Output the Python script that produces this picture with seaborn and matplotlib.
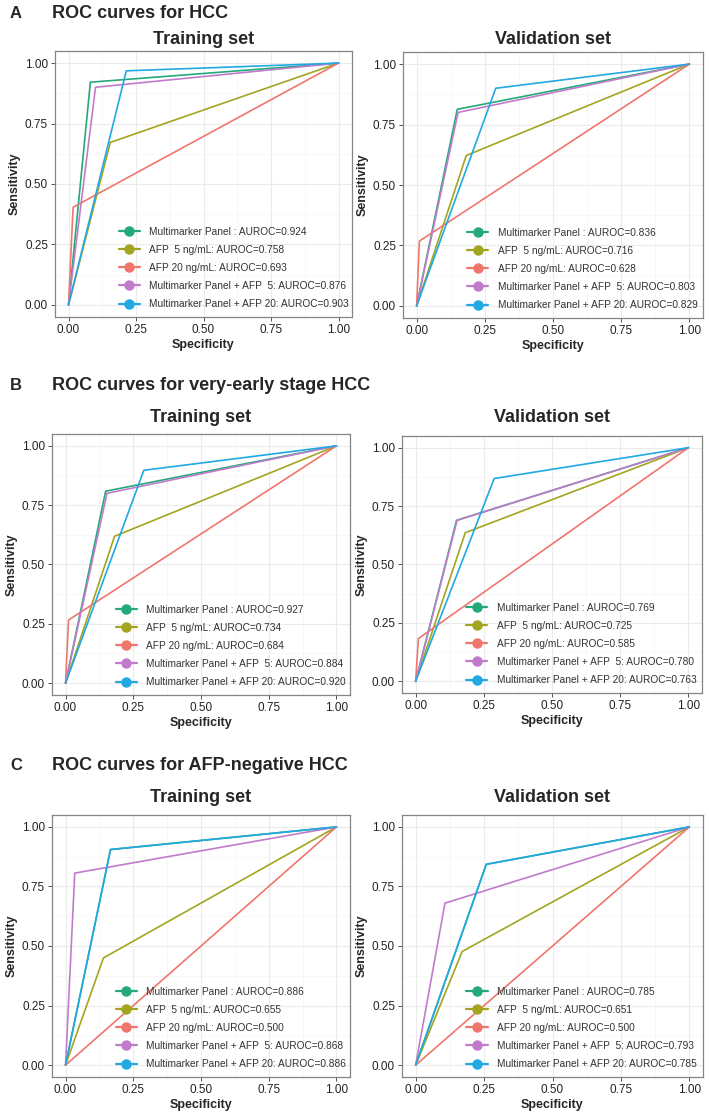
import matplotlib
matplotlib.use("Agg")
import matplotlib.pyplot as plt
from matplotlib.lines import Line2D
import pandas as pd
import seaborn as sns

sns.set_style("white")
plt.rcParams["font.family"] = ["Liberation Sans", "DejaVu Sans"]

# --------------------------------------------------------------------------
# Data (cut-off point of each ROC curve)
# --------------------------------------------------------------------------

MODELS = ["Multimarker Panel ", "AFP  5 ng/mL", "AFP 20 ng/mL",
          "Multimarker Panel + AFP  5", "Multimarker Panel + AFP 20"]
COLORS = ["#24A97A", "#A3A521", "#F0766C", "#C07CCB", "#22A8E3"]

SECTION_TITLES = ["ROC curves for HCC",
                  "ROC curves for very-early stage HCC",
                  "ROC curves for AFP-negative HCC"]
SECTION_LETTERS = ["A", "B", "C"]
SET_NAMES = ["Training set", "Validation set"]

# A: all HCC
a_train_fpr = [0.081, 0.155, 0.017, 0.100, 0.214]
a_train_tpr = [0.921, 0.672, 0.404, 0.900, 0.968]
a_train_auc = ["0.924", "0.758", "0.693", "0.876", "0.903"]
a_val_fpr = [0.149, 0.182, 0.010, 0.152, 0.290]
a_val_tpr = [0.813, 0.622, 0.268, 0.800, 0.900]
a_val_auc = ["0.836", "0.716", "0.628", "0.803", "0.829"]

# B: very-early stage HCC
b_train_fpr = [0.148, 0.181, 0.011, 0.153, 0.289]
b_train_tpr = [0.809, 0.619, 0.266, 0.800, 0.897]
b_train_auc = ["0.927", "0.734", "0.684", "0.884", "0.920"]
b_val_fpr = [0.150, 0.182, 0.010, 0.152, 0.288]
b_val_tpr = [0.689, 0.636, 0.183, 0.689, 0.868]
b_val_auc = ["0.769", "0.725", "0.585", "0.780", "0.763"]

# C: AFP-negative HCC (AFP 20 is the chance diagonal)
c_train_fpr = [0.166, 0.140, 0.500, 0.034, 0.166]
c_train_tpr = [0.905, 0.450, 0.500, 0.806, 0.905]
c_train_auc = ["0.886", "0.655", "0.500", "0.868", "0.886"]
c_val_fpr = [0.258, 0.170, 0.500, 0.107, 0.258]
c_val_tpr = [0.843, 0.477, 0.500, 0.680, 0.843]
c_val_auc = ["0.785", "0.651", "0.500", "0.793", "0.785"]

PANELS = [
    [(a_train_fpr, a_train_tpr, a_train_auc), (a_val_fpr, a_val_tpr, a_val_auc)],
    [(b_train_fpr, b_train_tpr, b_train_auc), (b_val_fpr, b_val_tpr, b_val_auc)],
    [(c_train_fpr, c_train_tpr, c_train_auc), (c_val_fpr, c_val_tpr, c_val_auc)],
]

W, H = 709, 1117
# axes boxes in pixels: (left, top, right, bottom)
BOXES = [
    [(55, 51, 352, 317), (403, 52, 703, 318)],
    [(52, 434, 350, 695), (402, 436, 702, 693)],
    [(52, 815, 350, 1077), (402, 815, 703, 1077)],
]
SECTION_Y = [13, 386, 766]
SUBTITLE_Y = [39, 418, 798]


def roc_frame(fpr, tpr):
    rows = []
    for name, x, y in zip(MODELS, fpr, tpr):
        for px, py in [(0.0, 0.0), (x, y), (1.0, 1.0)]:
            rows.append({"fpr": px, "tpr": py, "model": name})
    return pd.DataFrame(rows)


def style_axes(ax):
    ax.set_xlim(-0.05, 1.05)
    ax.set_ylim(-0.05, 1.05)
    ticks = [0, 0.25, 0.5, 0.75, 1.0]
    ax.set_xticks(ticks)
    ax.set_yticks(ticks)
    ax.set_xticklabels([f"{t:.2f}" for t in ticks])
    ax.set_yticklabels([f"{t:.2f}" for t in ticks])
    minor = [0.125, 0.375, 0.625, 0.875]
    ax.set_xticks(minor, minor=True)
    ax.set_yticks(minor, minor=True)
    ax.grid(which="major", color="#EBEBEB", lw=0.8)
    ax.grid(which="minor", color="#F4F4F4", lw=0.5)
    ax.set_axisbelow(True)
    ax.tick_params(which="major", length=3, width=0.6, color="#333333",
                   labelsize=8.5, labelcolor="#222222", pad=2, direction="out",
                   bottom=True, left=True)
    ax.tick_params(which="minor", length=0)
    for sp in ax.spines.values():
        sp.set_color("#858585")
        sp.set_linewidth(0.9)
    ax.set_xlabel("Specificity", fontsize=9, fontweight="bold", labelpad=2)
    ax.set_ylabel("Sensitivity", fontsize=9, fontweight="bold", labelpad=3)


fig = plt.figure(figsize=(W / 100, H / 100), dpi=100)

for r in range(3):
    fig.text(10 / W, 1 - SECTION_Y[r] / H, SECTION_LETTERS[r], fontsize=12,
             fontweight="bold", va="center", ha="left")
    fig.text(52 / W, 1 - SECTION_Y[r] / H, SECTION_TITLES[r], fontsize=13,
             fontweight="bold", va="center", ha="left")
    for c in range(2):
        l, t, rr, b = BOXES[r][c]
        ax = fig.add_axes([l / W, 1 - b / H, (rr - l) / W, (b - t) / H])
        fpr, tpr, auc = PANELS[r][c]
        df = roc_frame(fpr, tpr)
        sns.lineplot(data=df, x="fpr", y="tpr", hue="model", hue_order=MODELS,
                     palette=COLORS, sort=False, estimator=None, lw=1.2,
                     legend=False, ax=ax)
        style_axes(ax)
        fig.text((l + rr) / 2 / W, 1 - SUBTITLE_Y[r] / H, SET_NAMES[c],
                 fontsize=13, fontweight="bold", ha="center", va="center")

        handles = [Line2D([0], [0], color=col, lw=1.6, marker="o",
                          markersize=6.5) for col in COLORS]
        labels = [f"{m}: AUROC={a}" for m, a in zip(MODELS, auc)]
        ax.legend(handles, labels, loc="lower left",
                  bbox_to_anchor=(0.19, 0.003), frameon=False,
                  fontsize=7.3, handlelength=2.1, handletextpad=0.9,
                  labelspacing=0.8, borderpad=0.2, labelcolor="#333333")

fig.savefig("out.png", dpi=100)
